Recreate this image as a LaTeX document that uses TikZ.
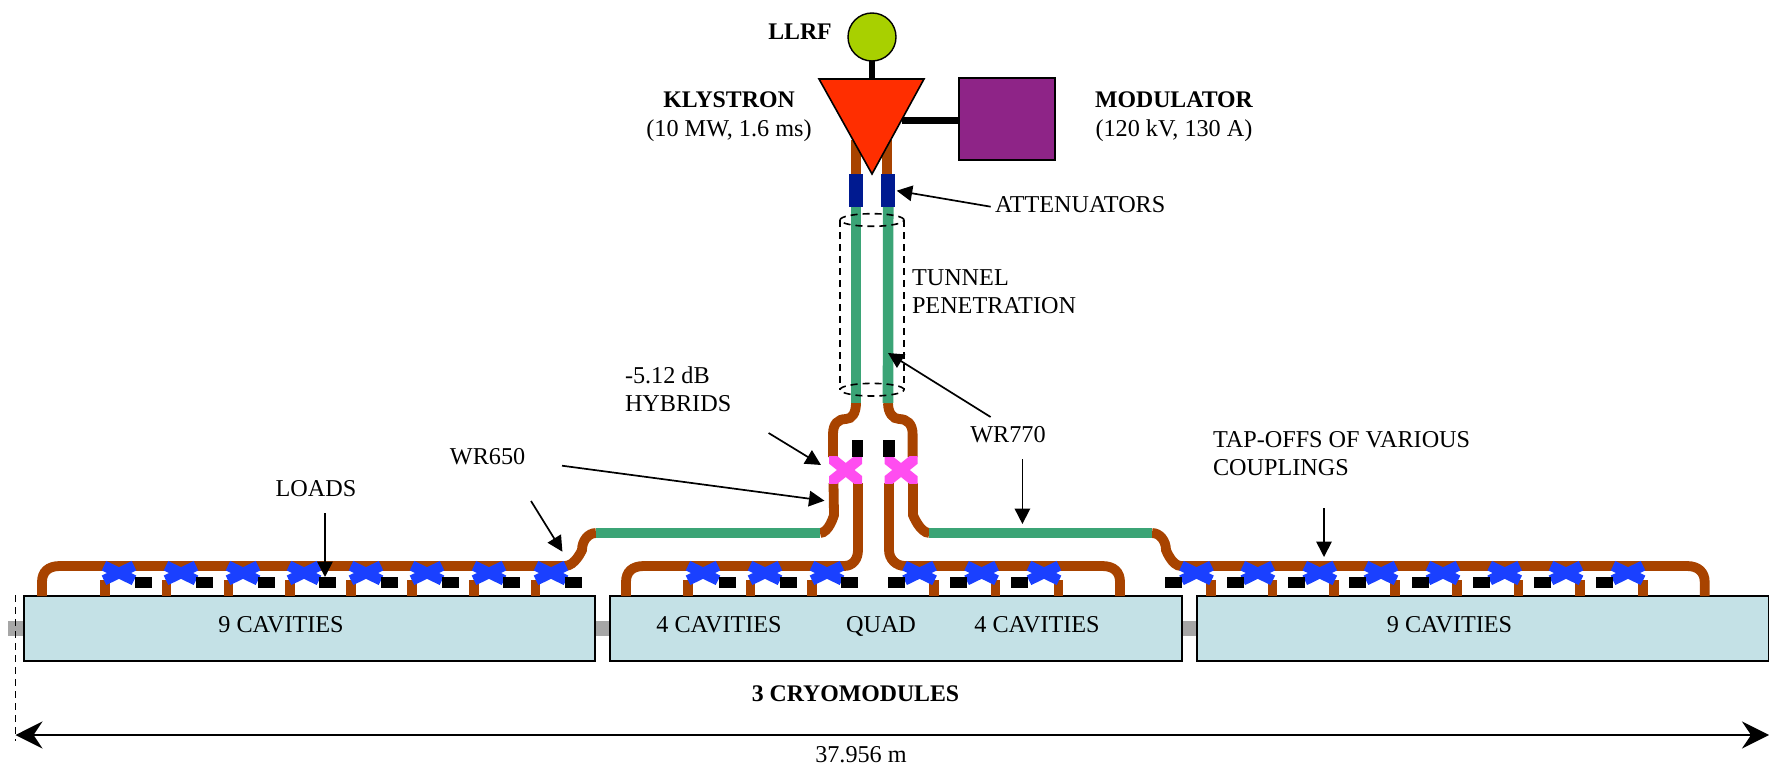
\documentclass[tikz,border=0pt]{standalone}
\usepackage{fontspec}
\setmainfont{Liberation Serif}
\usetikzlibrary{arrows.meta}
\definecolor{pipebrown}{HTML}{A84300}
\definecolor{pipegreen}{HTML}{3BA476}
\definecolor{xblue}{HTML}{1A40FF}
\definecolor{xpink}{HTML}{FF4DF0}
\definecolor{boxfill}{HTML}{C4E1E6}
\definecolor{barfill}{HTML}{A6A6A6}
\definecolor{attblue}{HTML}{001A90}
\definecolor{klyred}{HTML}{FF2E00}
\definecolor{modpurple}{HTML}{8E2487}
\definecolor{llrfgreen}{HTML}{A8D000}
\newcommand{\txtfont}{\fontsize{24.2pt}{28pt}\selectfont}
\newcommand{\bldfont}{\fontsize{23.8pt}{28pt}\selectfont\bfseries}
\tikzset{
  txt/.style={inner sep=0pt,outer sep=0pt,font=\txtfont},
  one/.style={txt,text height=16pt,text depth=0pt},
  bld/.style={one,font=\bldfont},
  two/.style={txt,align=left,anchor=west},
  cryo/.style={draw=black,line width=1.8pt,fill=boxfill,minimum width=#1,minimum height=64.7pt,inner sep=0pt,outer sep=0pt},
  bar/.style={fill=barfill,draw=none,inner sep=0pt,minimum height=14.7pt},
  brown/.style={draw=pipebrown,line width=9.8pt},
  green/.style={draw=pipegreen,line width=10.6pt},
  blk/.style={fill=black,draw=none,inner sep=0pt,outer sep=0pt},
  tap/.style={blk,minimum width=17pt,minimum height=11.5pt},
  hyb/.style={blk,minimum width=11.5pt,minimum height=16.7pt},
  att/.style={fill=attblue,draw=none,inner sep=0pt,minimum width=14.4pt,minimum height=33pt},
  ptr/.style={line width=1.7pt,-{Triangle[length=15.5pt,width=15.5pt]}},
  dim/.style={line width=1.8pt,{Stealth[length=27pt,width=27pt,inset=9pt]}-{Stealth[length=27pt,width=27pt,inset=9pt]}},
  dsh/.style={line width=1.6pt,dash pattern=on 7pt off 5pt},
  pics/bluex/.style={code={
    \draw[xblue,line width=10.5pt] (-15,-7.3) -- (15,7.3) (-15,7.3) -- (15,-7.3);}},
  pics/pinkx/.style={code={
    \begin{scope}
      \clip (-16.5,-13.2) rectangle (16.5,13.2);
      \draw[xpink,line width=11pt] (-20,-16) -- (20,16) (-20,16) -- (20,-16);
    \end{scope}}},
}
\begin{document}
\begin{tikzpicture}[x=1pt,y=-1pt]
\useasboundingbox (0,0) rectangle (1769,765);

% cryomodules and beam pipe
\node[bar,minimum width=16pt] (barA) at (16,628.4) {};
\node[bar,minimum width=16pt] (barB) at (602.5,628.4) {};
\node[bar,minimum width=16pt] (barC) at (1189.5,628.4) {};
\node[cryo=571pt] (boxL) at (309.2,628.4) {};
\node[cryo=572pt] (boxM) at (896,628.4) {};
\node[cryo=571.5pt] (boxR) at (1483,628.4) {};
\node[one] (tL) at (281,624) {9 CAVITIES};
\node[one] (tM1) at (719,624) {4 CAVITIES};
\node[one] (tQ) at (881,624) {QUAD};
\node[one] (tM2) at (1037,624) {4 CAVITIES};
\node[one] (tR) at (1449.5,624) {9 CAVITIES};

% stubs from the couplers into the cryomodules
\foreach \x/\n in {105/a,166.5/b,228.5/c,290/d,351/e,412/f,474/g,535.5/h,
                   687.8/i,750.6/j,812/k,934/l,995.5/m,1058.4/n,
                   1210.8/o,1272.4/p,1334/q,1395/r,1457/s,1518.6/t,1580/u,1643/v}{
  \coordinate (st\n) at (\x,580);
  \draw[brown,line width=9.5pt] (st\n) -- (st\n |- boxL.north);
}

% WR650 feeders
\coordinate (lA) at (42,596);
\coordinate (lB) at (565,566);
\coordinate (lC) at (582,550);
\coordinate (lD) at (596,533);
\coordinate (lE) at (820,533);
\coordinate (lF) at (833.5,483);
\coordinate (lG) at (834,515);
\coordinate (rA) at (1704.7,596);
\coordinate (rB) at (1181,566);
\coordinate (rC) at (1166,550);
\coordinate (rD) at (1152,533);
\coordinate (rE) at (929.4,533);
\coordinate (rF) at (913,483);
\coordinate (rG) at (913,515);
\coordinate (mA) at (626,596);
\coordinate (mB) at (844,566);
\coordinate (mC) at (858,483);
\coordinate (nA) at (1120,596);
\coordinate (nB) at (905,566);
\coordinate (nC) at (889,483);
\draw[brown] (lA) -- (42,582) .. controls (42,572) and (48,566) .. (60,566) -- (lB)
  .. controls (575,566) and (lC) .. (lC) .. controls (582,541) and (588,533) .. (lD);
\draw[brown] (rA) -- (1704.7,582) .. controls (1704.7,572) and (1698,566) .. (1687,566) -- (rB)
  .. controls (1172,566) and (rC) .. (rC) .. controls (1166,541) and (1160,533) .. (rD);
\draw[brown] (mA) -- (626,582) .. controls (626,572) and (632,566) .. (644,566) -- (mB)
  .. controls (853,566) and (858,559) .. (858,550) -- (mC);
\draw[brown] (nA) -- (1120,582) .. controls (1120,572) and (1114,566) .. (1102,566) -- (nB)
  .. controls (896,566) and (889,559) .. (889,550) -- (nC);
\draw[brown] (lE) .. controls (829,533) and (lG) .. (lG) -- (lF);
\draw[brown] (rE) .. controls (920,533) and (rG) .. (rG) -- (rF);
\draw[green] (lD) -- (lE);
\draw[green] (rE) -- (rD);

% upper brown bends to the hybrids
\coordinate (hL) at (833,457);
\coordinate (hR) at (912.6,457);
\coordinate (gL) at (856,403);
\coordinate (gR) at (888,403);
\draw[brown] (hL) -- (833,434) .. controls (833,424) and (838,419) .. (846,419)
  .. controls (852,419) and (856,413) .. (gL);
\draw[brown] (hR) -- (912.6,434) .. controls (912.6,424) and (907,419) .. (899,419)
  .. controls (893,419) and (888,413) .. (gR);

% WR770 through the tunnel penetration
\node[att] (attL) at (856,190.5) {};
\node[att] (attR) at (888.2,190.5) {};
\draw[green] (attL.south) -- (gL);
\draw[green] (attR.south) -- (gR);
\draw[brown] (856,140) -- (attL.north);
\draw[brown] (886.7,140) -- (886.7,174);

% tunnel outline
\draw[dsh] (840,220) -- (840,390);
\draw[dsh] (904,220) -- (904,390);
\draw[dsh] (872,220) ellipse (32pt and 6.3pt);
\draw[dsh] (872,389.7) ellipse (32pt and 6.3pt);

% couplers
\foreach \x in {119,181,243,304,366,427,489,551,703,765,827,
                919.6,981.6,1044,1196.5,1257.8,1319.8,1381,1443,1504.7,1566,1628}{
  \pic at (\x,573) {bluex};
}
\pic at (845.7,470) {pinkx};
\pic at (901,470) {pinkx};

% loads
\foreach \x/\n in {143/a,204.5/b,266/c,327/d,389/e,450/f,511.5/g,573/h,
                   727/i,788.6/j,849.4/k,896.7/l,958/m,1019.6/n,
                   1173.7/o,1235/p,1296.5/q,1357.8/r,1420/s,1481/t,1542.6/u,1604/v}{
  \node[tap] (load\n) at (\x,582.3) {};
}
\node[hyb] (loadH1) at (857.5,448.4) {};
\node[hyb] (loadH2) at (889.2,448.4) {};

% klystron, LLRF and modulator
\coordinate (kTop) at (872,79);
\coordinate (kA) at (819,79);
\coordinate (kB) at (924,79);
\coordinate (kC) at (872,174);
\coordinate (kSide) at (902,120.3);
\node[circle,draw=black,line width=1.4pt,fill=llrfgreen,minimum size=48pt,inner sep=0pt,outer sep=0pt] (llrf) at (872,37) {};
\node[draw=black,line width=2pt,fill=modpurple,minimum width=96.6pt,minimum height=82pt,inner sep=0pt,outer sep=0pt] (mod) at (1007,118.7) {};
\draw[line width=6.5pt] (llrf.south) -- (kTop);
\draw[line width=6.5pt] (kSide) -- (kSide -| mod.west);
\draw[line width=1.6pt,fill=klyred,line join=miter] (kA) -- (kB) -- (kC) -- cycle;

% labels
\node[bld] (tLLRF) at (800,32) {LLRF};
\node[bld] (tKly) at (729,100) {KLYSTRON};
\node[one] (tKly2) at (729,129) {(10 MW, 1.6 ms)};
\node[bld] (tMod) at (1174,100) {MODULATOR};
\node[one] (tMod2) at (1174,128) {(120 kV, 130 A)};
\node[one,anchor=west] (tAtt) at (995,204.5) {ATTENUATORS};
\node[two] (tTun) at (912,292) {TUNNEL\\PENETRATION};
\node[two] (tHyb) at (625,389.5) {-5.12 dB\\HYBRIDS};
\node[one] (t650) at (487.6,456) {WR650};
\node[one] (t770) at (1008,434) {WR770};
\node[one] (tLoads) at (316,488) {LOADS};
\node[two] (tTap) at (1213,454) {TAP-OFFS OF VARIOUS\\COUPLINGS};
\node[bld] (tCryo) at (855.5,693) {3 CRYOMODULES};
\node[one] (tLen) at (861,754) {37.956 m};

% pointers
\coordinate (aS) at (990.7,206.7);   \coordinate (aE) at (896.7,190.7);
\coordinate (bS) at (990.6,417);     \coordinate (bE) at (888,353);
\coordinate (cS) at (1022.4,459);    \coordinate (cE) at (1022.4,524);
\coordinate (dS) at (768.6,433);     \coordinate (dE) at (821,465);
\coordinate (eS) at (562,465.7);     \coordinate (eE) at (824.5,500.7);
\coordinate (fS) at (531,501);       \coordinate (fE) at (562.4,551.7);
\coordinate (gS) at (325,513);       \coordinate (gE) at (325,577);
\coordinate (hS) at (1324,508);      \coordinate (hE) at (1324,557);
\foreach \p in {a,b,c,d,e,f,g,h}{ \draw[ptr] (\p S) -- (\p E); }

% overall length
\coordinate (dimL) at (15.5,735);
\coordinate (dimR) at (1769,735);
\coordinate (dashT) at (15.5,595);
\coordinate (dashB) at (15.5,741);
\draw[dsh] (dashT) -- (dashB);
\draw[dim] (dimL) -- (dimR);
\end{tikzpicture}
\end{document}
